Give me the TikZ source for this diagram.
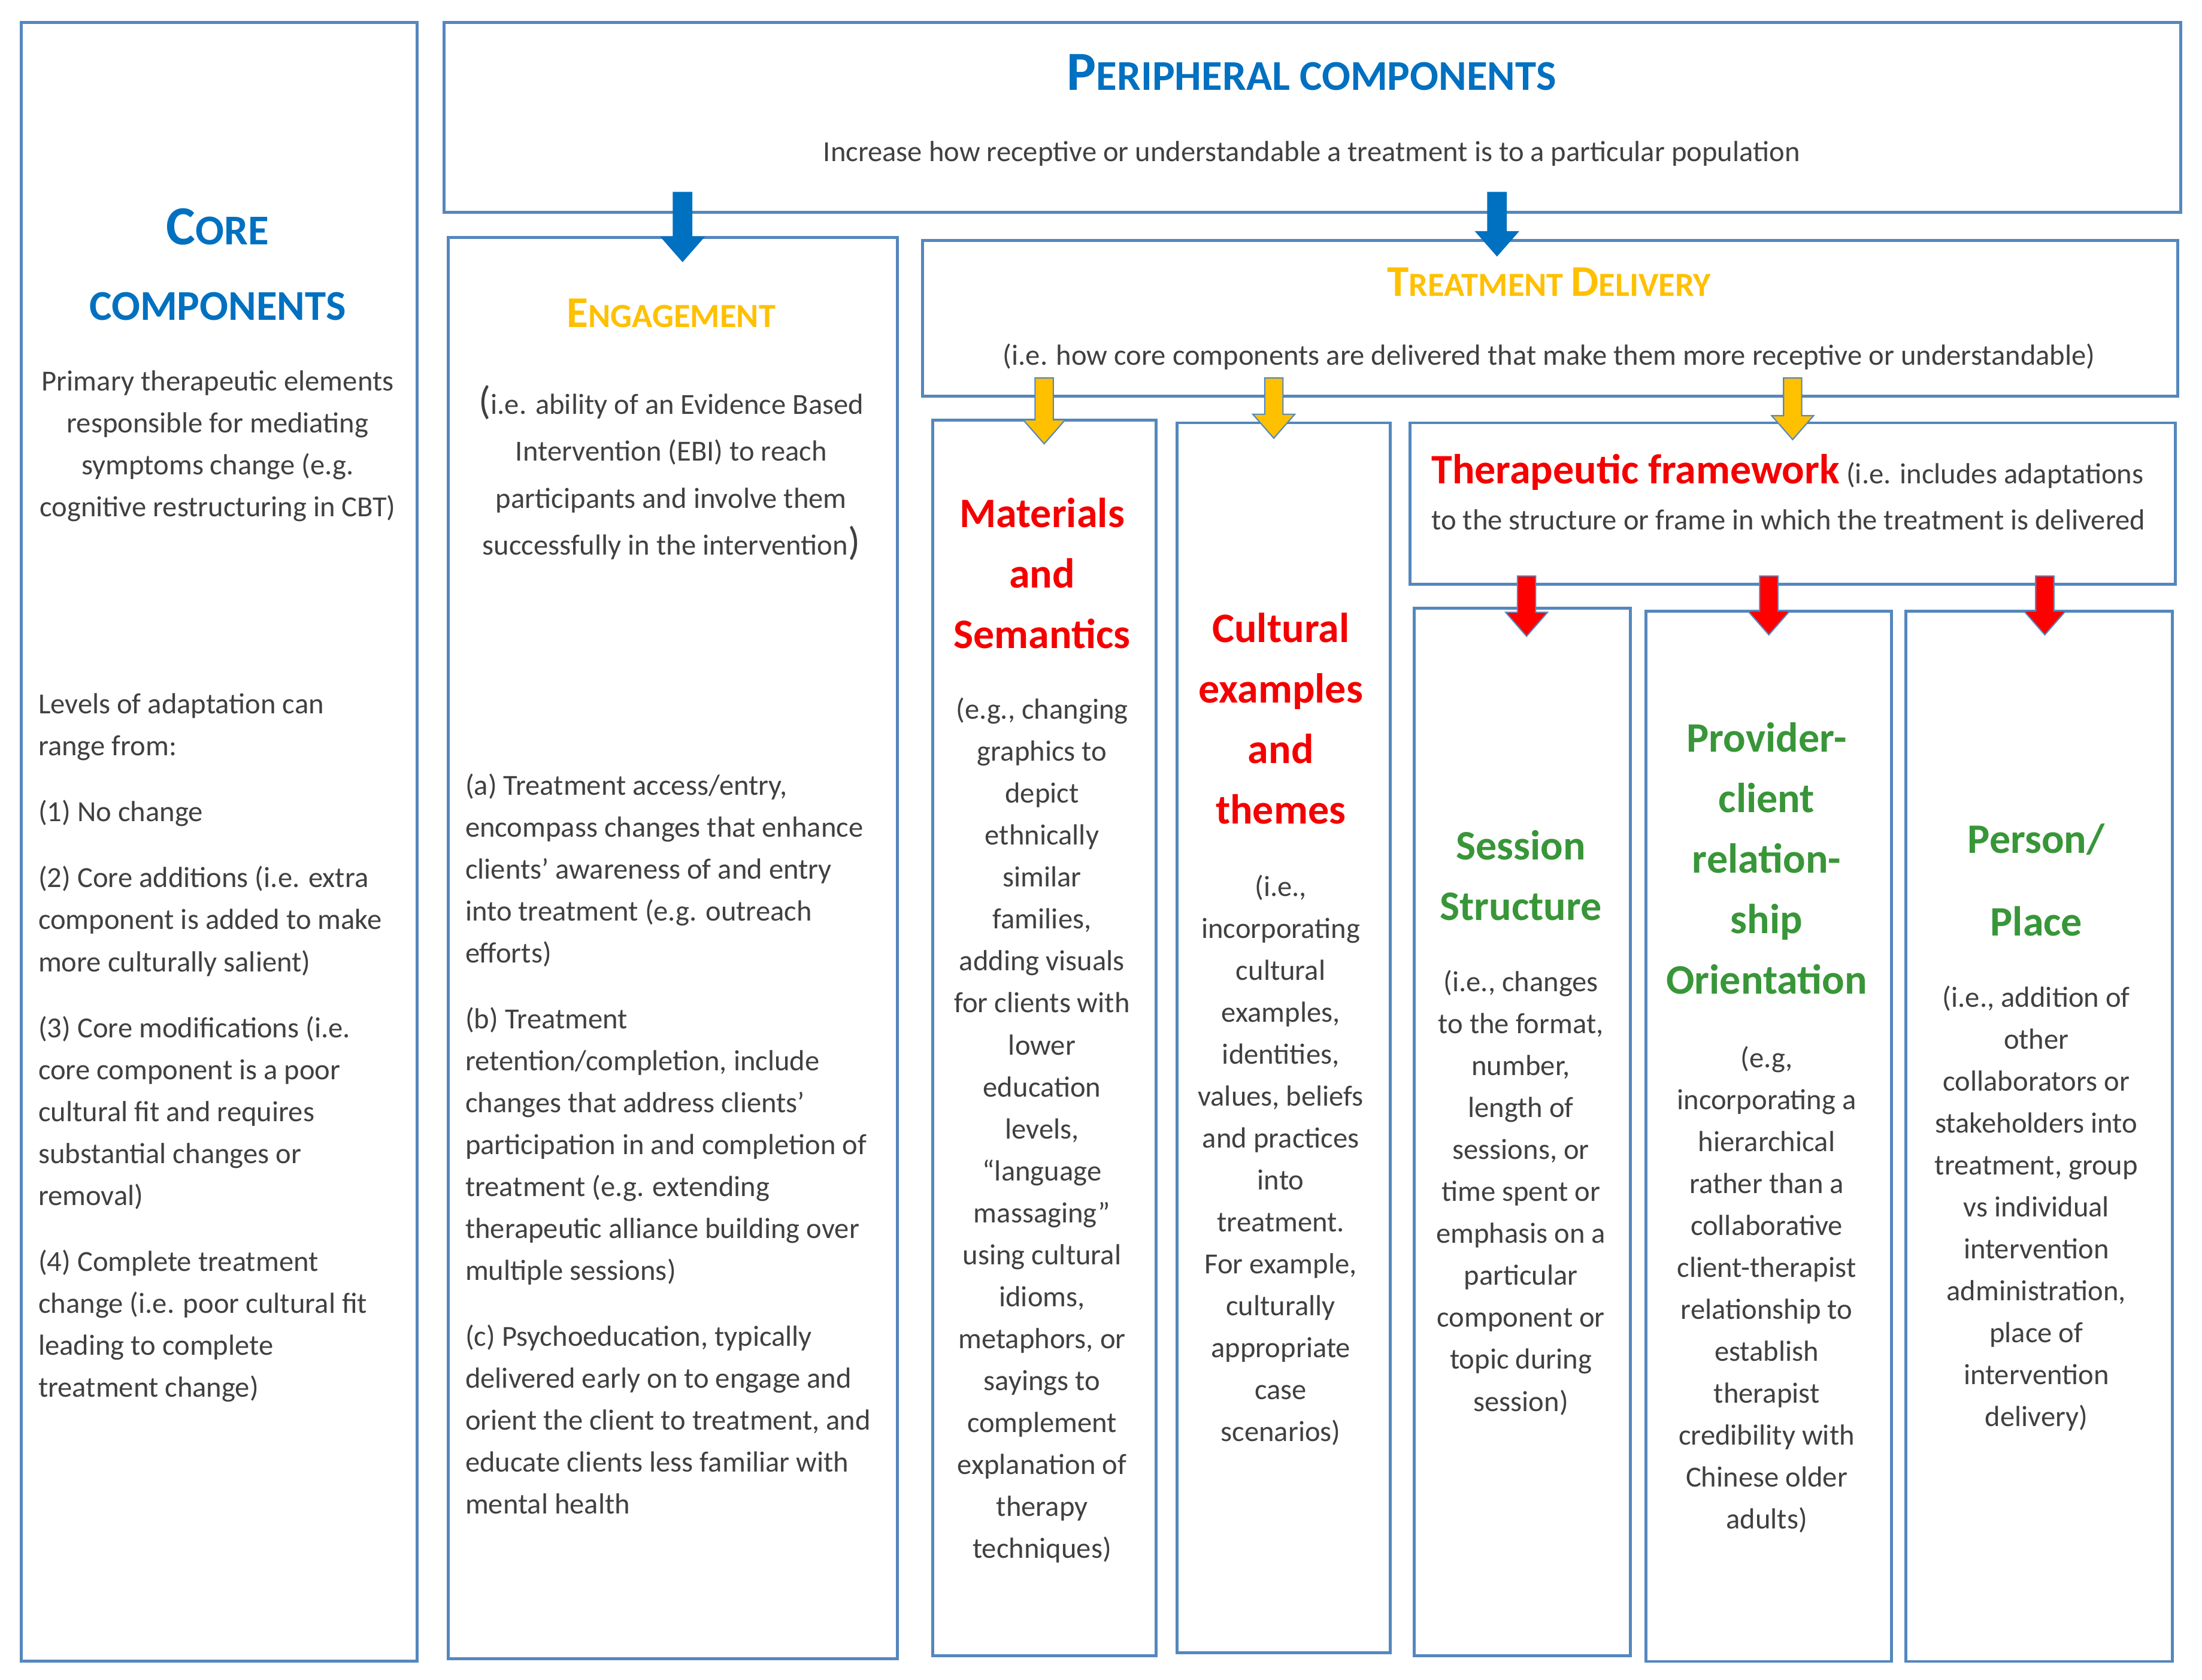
\documentclass[tikz,border=0pt]{standalone}
\usepackage{fontspec}
\setmainfont{Carlito}
\usepackage{graphicx}
\usetikzlibrary{calc}

\definecolor{edgeblue}{RGB}{84,135,190}
\definecolor{headblue}{RGB}{0,112,192}
\definecolor{gold}{RGB}{255,192,0}
\definecolor{redtitle}{RGB}{245,0,0}
\definecolor{greentitle}{RGB}{56,150,56}
\definecolor{bodygray}{RGB}{64,64,64}

% first letter of a (faked) small caps heading
\newcommand{\initcap}[1]{\scalebox{1.3}{#1}}

% block arrow: fill, outline, start, tip
\newcommand{\blockarrow}[4]{%
  \filldraw[fill=#1, draw=#2, line width=0.5pt]
    let \p1=#3, \p2=#4 in
    (\x1-3.7pt,\y1) -- (\x1-3.7pt,\y2+9.7pt) -- (\x1-8.5pt,\y2+9.7pt) -- (\x1,\y2)
    -- (\x1+8.5pt,\y2+9.7pt) -- (\x1+3.7pt,\y2+9.7pt) -- (\x1+3.7pt,\y1) -- cycle;}

\tikzset{
  panel/.style={draw=edgeblue, line width=1.2pt, fill=white, anchor=north west, inner sep=0pt},
  body/.style={font=\fontsize{11.8pt}{17pt}\selectfont, text=bodygray, inner sep=0pt, anchor=north, align=center},
  bigsc/.style={font=\fontsize{17.2pt}{20pt}\selectfont\bfseries, text=headblue, inner sep=0pt, anchor=base},
  goldsc/.style={font=\fontsize{13.7pt}{16pt}\selectfont\bfseries, text=gold, inner sep=0pt, anchor=base},
  redhead/.style={font=\fontsize{17pt}{24.5pt}\selectfont\bfseries, text=redtitle, inner sep=0pt, anchor=north, align=center},
  greenhead/.style={font=\fontsize{17pt}{24.5pt}\selectfont\bfseries, text=greentitle, inner sep=0pt, anchor=north, align=center},
}

\begin{document}
\begin{tikzpicture}[x=0.02cm, y=-0.02cm]
  \useasboundingbox (0,0) rectangle (1568,1196);

  % boxes
  \node[panel, minimum width=5.64cm, minimum height=23.34cm] (core) at (14,15) {};
  \node[panel, minimum width=24.74cm, minimum height=2.7cm] (periph) at (315,15) {};
  \node[panel, minimum width=6.4cm, minimum height=20.24cm] (eng) at (318,168) {};
  \node[panel, minimum width=17.88cm, minimum height=2.22cm] (deliv) at (656,170) {};
  \node[panel, minimum width=3.18cm, minimum height=17.6cm] (mat) at (663,298) {};
  \node[panel, minimum width=3.04cm, minimum height=17.52cm] (cult) at (837,300) {};
  \node[panel, minimum width=10.9cm, minimum height=2.3cm] (frame) at (1003,300) {};
  \node[panel, minimum width=3.08cm, minimum height=14.92cm] (sess) at (1006,432) {};
  \node[panel, minimum width=3.5cm, minimum height=14.96cm] (prov) at (1171,434) {};
  \node[panel, minimum width=3.8cm, minimum height=14.96cm] (pers) at (1356,434) {};

  % core components
  \node[bigsc] (coreA) at (155,174) {\initcap{C}ORE};
  \node[bigsc] (coreB) at (155,228) {COMPONENTS};
  \node[body] (coreTxt) at (155,263.5) {Primary therapeutic elements\\
    responsible for mediating\\ symptoms change (e.g.\\ cognitive restructuring in CBT)};
  \node[body, anchor=north west, align=left] (levels) at (27,493.5) {Levels of adaptation can\\
    range from:\\[9.7pt]
    (1) No change\\[9.7pt]
    (2) Core additions (i.e. extra\\ component is added to make\\ more culturally salient)\\[9.7pt]
    (3) Core modifications (i.e.\\ core component is a poor\\ cultural fit and requires\\
    substantial changes or\\ removal)\\[9.7pt]
    (4) Complete treatment\\ change (i.e. poor cultural fit\\ leading to complete\\ treatment change)};

  % peripheral components
  \node[bigsc] (perTitle) at (934,64) {\initcap{P}ERIPHERAL COMPONENTS};
  \node[body, anchor=base] (perTxt) at (934,115)
    {Increase how receptive or understandable a treatment is to a particular population};

  % engagement
  \node[goldsc] (engTitle) at (478,233) {\initcap{E}NGAGEMENT};
  \node[body, font=\fontsize{11.8pt}{19pt}\selectfont] (engTxt) at (478,274)
    {{\fontsize{16pt}{16pt}\selectfont(}i.e. ability of an Evidence Based\\
    Intervention (EBI) to reach\\ participants and involve them\\
    successfully in the intervention{\fontsize{16pt}{16pt}\selectfont)}};
  \node[body, anchor=north west, align=left] (engList) at (331,550.5)
    {(a) Treatment access/entry,\\ encompass changes that enhance\\
    clients’ awareness of and entry\\ into treatment (e.g. outreach\\ efforts)\\[9.7pt]
    (b) Treatment\\ retention/completion, include\\ changes that address clients’\\
    participation in and completion of\\ treatment (e.g. extending\\
    therapeutic alliance building over\\ multiple sessions)\\[9.7pt]
    (c) Psychoeducation, typically\\ delivered early on to engage and\\
    orient the client to treatment, and\\ educate clients less familiar with\\ mental health};

  % treatment delivery
  \node[goldsc] (delTitle) at (1103,211) {\initcap{T}REATMENT \initcap{D}ELIVERY};
  \node[body, anchor=base] (delTxt) at (1103,260)
    {(i.e. how core components are delivered that make them more receptive or understandable)};

  % materials and semantics
  \node[redhead] (matTitle) at (742,354) {Materials\\ and\\ Semantics};
  \node[body] (matTxt) at (742,496.5) {(e.g., changing\\ graphics to\\ depict\\ ethnically\\
    similar\\ families,\\ adding visuals\\ for clients with\\ lower\\ education\\ levels,\\
    “language\\ massaging”\\ using cultural\\ idioms,\\ metaphors, or\\ sayings to\\
    complement\\ explanation of\\ therapy\\ techniques)};

  % cultural examples
  \node[redhead] (cultTitle) at (912,436) {Cultural\\ examples\\ and\\ themes};
  \node[body] (cultTxt) at (912,622.5) {(i.e.,\\ incorporating\\ cultural\\ examples,\\
    identities,\\ values, beliefs\\ and practices\\ into\\ treatment.\\ For example,\\
    culturally\\ appropriate\\ case\\ scenarios)};

  % therapeutic framework
  \node[body, anchor=north west, align=left] (frameTxt) at (1019,323)
    {{\fontsize{17pt}{20pt}\selectfont\bfseries\color{redtitle}Therapeutic framework} (i.e. includes adaptations\\[1.8pt]
    to the structure or frame in which the treatment is delivered};

  % session structure
  \node[greenhead] (sessTitle) at (1083,591) {Session\\ Structure};
  \node[body] (sessTxt) at (1083,690.5) {(i.e., changes\\ to the format,\\ number,\\ length of\\
    sessions, or\\ time spent or\\ emphasis on a\\ particular\\ component or\\ topic during\\ session)};

  % provider-client relationship
  \node[greenhead] (provTitle) at (1258,514) {Provider-\\ client\\ relation-\\ ship\\ Orientation};
  \node[body] (provTxt) at (1258,744.5) {(e.g,\\ incorporating a\\ hierarchical\\ rather than a\\
    collaborative\\ client-therapist\\ relationship to\\ establish\\ therapist\\
    credibility with\\ Chinese older\\ adults)};

  % person / place
  \node[greenhead, font=\fontsize{17pt}{33.6pt}\selectfont\bfseries] (persTitle) at (1450,586) {Person/\\ Place};
  \node[body] (persTxt) at (1450,701.5) {(i.e., addition of\\ other\\ collaborators or\\
    stakeholders into\\ treatment, group\\ vs individual\\ intervention\\
    administration,\\ place of\\ intervention\\ delivery)};

  % arrows
  \blockarrow{headblue}{headblue}{([xshift=0.14cm,yshift=0.3cm]periph.south -| eng.north)}{([xshift=0.14cm,yshift=-0.36cm]eng.north)}
  \blockarrow{headblue}{headblue}{([xshift=-0.76cm,yshift=0.3cm]periph.south -| deliv.north)}{([xshift=-0.76cm,yshift=-0.24cm]deliv.north)}
  \blockarrow{gold}{edgeblue}{([yshift=0.28cm]deliv.south -| mat.north)}{([yshift=-0.36cm]mat.north)}
  \blockarrow{gold}{edgeblue}{([xshift=-0.14cm,yshift=0.28cm]deliv.south -| cult.north)}{([xshift=-0.14cm,yshift=-0.24cm]cult.north)}
  \blockarrow{gold}{edgeblue}{([yshift=0.28cm]deliv.south -| frame.north)}{([yshift=-0.26cm]frame.north)}
  \blockarrow{red}{edgeblue}{([xshift=0.06cm,yshift=0.14cm]frame.south -| sess.north)}{([xshift=0.06cm,yshift=-0.42cm]sess.north)}
  \blockarrow{red}{edgeblue}{([yshift=0.14cm]frame.south -| prov.north)}{([yshift=-0.36cm]prov.north)}
  \blockarrow{red}{edgeblue}{([xshift=0.08cm,yshift=0.14cm]frame.south -| pers.north)}{([xshift=0.08cm,yshift=-0.36cm]pers.north)}
\end{tikzpicture}
\end{document}
